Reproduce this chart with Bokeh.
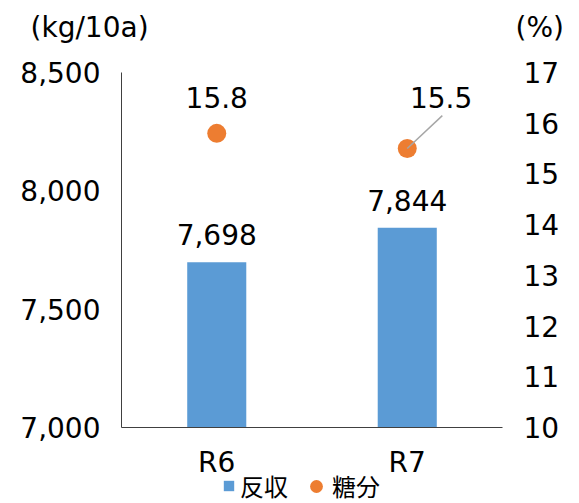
from bokeh.plotting import figure
from bokeh.models import (ColumnDataSource, Range1d, LinearAxis, FixedTicker,
                          NumeralTickFormatter, LabelSet, Label, Legend, LegendItem)
from bokeh.core.properties import value
from bokeh.embed import file_html
from bokeh.resources import INLINE

categories = ["R6", "R7"]
yield_kg = [7698, 7844]
sugar_pct = [15.8, 15.5]
yield_labels = ["7,698", "7,844"]
sugar_labels = ["15.8", "15.5"]
left_ticks = [7000, 7500, 8000, 8500]
right_ticks = [10, 11, 12, 13, 14, 15, 16, 17]
left_title = "(kg/10a)"
right_title = "(%)"
series_names = ["反収", "糖分"]

FONT = "DejaVu Sans"
JFONT = "Noto Sans CJK JP"
BLUE = "#5B9BD5"
ORANGE = "#ED7D31"
TS = "28px"

# layout: canvas size and where the chart's plotting box sits on it (pixels)
W, H = 579, 503
FL, FR, FT, FB = 121, 502, 72, 427

n = len(categories)
x_pos = [i + 0.5 for i in range(n)]
ux = (FR - FL) / n
uy = (FB - FT) / (left_ticks[-1] - left_ticks[0])
ur = (FB - FT) / (right_ticks[-1] - right_ticks[0])

p = figure(width=W, height=H, output_backend="svg", toolbar_location=None,
           x_range=Range1d(-FL / ux, n + (W - FR) / ux),
           y_range=Range1d(left_ticks[0] - (H - FB) / uy, left_ticks[-1] + FT / uy),
           min_border=0)
p.extra_y_ranges = {"pct": Range1d(right_ticks[0] - (H - FB) / ur, right_ticks[-1] + FT / ur)}
p.outline_line_color = None
p.xgrid.visible = False
p.ygrid.visible = False

src = ColumnDataSource(dict(x=x_pos, y=yield_kg, s=sugar_pct, yl=yield_labels, sl=sugar_labels))
bars = p.vbar(x="x", top="y", bottom=left_ticks[0], width=0.31, source=src, color=BLUE, line_color=None)
pts = p.scatter(x="x", y="s", source=src, y_range_name="pct", size=19, color=ORANGE, line_color=None)

# axes (fixed inside the canvas so that they take no border space)
ya = p.yaxis[0]
ya.fixed_location = 0
ya.bounds = (left_ticks[0], left_ticks[-1])
ya.ticker = FixedTicker(ticks=left_ticks)
ya.formatter = NumeralTickFormatter(format="0,0")
ya.major_tick_line_color = None
ya.minor_tick_line_color = None
ya.axis_line_color = "#404040"
ya.major_label_standoff = 15
ya.major_label_text_font = FONT
ya.major_label_text_font_size = TS
ya.major_label_text_color = "#000000"

ry = LinearAxis(y_range_name="pct", ticker=FixedTicker(ticks=right_ticks), fixed_location=n)
ry.axis_line_color = None
ry.major_tick_line_color = None
ry.minor_tick_line_color = None
ry.major_label_standoff = 15
ry.major_label_text_font = FONT
ry.major_label_text_font_size = TS
ry.major_label_text_color = "#000000"
p.add_layout(ry, "right")

xa = p.xaxis[0]
xa.fixed_location = left_ticks[0]
xa.bounds = (0, n)
xa.ticker = FixedTicker(ticks=x_pos)
xa.major_label_overrides = {xp: c for xp, c in zip(x_pos, categories)}
xa.axis_line_color = "#404040"
xa.major_tick_line_color = None
xa.minor_tick_line_color = None
xa.major_label_standoff = 12
xa.major_label_text_font = FONT
xa.major_label_text_font_size = TS
xa.major_label_text_color = "#000000"

# data labels
p.add_layout(LabelSet(x="x", y="y", text="yl", source=src, text_align="center",
                      text_baseline="alphabetic", y_offset=17, text_font_size=value(TS),
                      text_font=value(FONT), text_color="#000000"))

src1 = ColumnDataSource(dict(x=x_pos[:1], s=sugar_pct[:1], sl=sugar_labels[:1]))
p.add_layout(LabelSet(x="x", y="s", text="sl", source=src1, y_range_name="pct", text_align="center",
                      text_baseline="alphabetic", y_offset=25, text_font_size=value(TS),
                      text_font=value(FONT), text_color="#000000"))

src2 = ColumnDataSource(dict(x=x_pos[1:], s=sugar_pct[1:], sl=sugar_labels[1:],
                             x2=[v + 0.184 for v in x_pos[1:]], xl=[v + 0.178 for v in x_pos[1:]],
                             s2=[v + 0.65 for v in sugar_pct[1:]]))
p.segment(x0="x", y0="s", x1="x2", y1="s2", source=src2,
          y_range_name="pct", line_color="#A6A6A6", line_width=1.5)
p.add_layout(LabelSet(x="xl", y="s2", text="sl", source=src2,
                      y_range_name="pct", text_align="center", text_baseline="alphabetic", y_offset=8,
                      text_font_size=value(TS), text_font=value(FONT), text_color="#000000"))

# unit titles (screen units: from the canvas bottom-left, y upward)
p.add_layout(Label(x=30, y=H - 27, x_units="screen", y_units="screen", text=left_title,
                   text_font=FONT, text_font_size="28px", text_color="#000000",
                   text_baseline="middle"))
p.add_layout(Label(x=515, y=H - 27, x_units="screen", y_units="screen", text=right_title,
                   text_font=FONT, text_font_size="28px", text_color="#000000",
                   text_baseline="middle"))

# legend, one entry each so that the marker boxes can differ
leg_common = dict(orientation="horizontal", padding=0, margin=0, border_line_color=None,
                  background_fill_alpha=0, label_text_font=JFONT, label_text_font_size="24px",
                  label_text_color="#000000")
leg1 = Legend(items=[LegendItem(label=series_names[0], renderers=[bars])],
              location=(222, 0), glyph_width=13, glyph_height=13, label_standoff=5, **leg_common)
leg2 = Legend(items=[LegendItem(label=series_names[1], renderers=[pts])],
              location=(300, 0), glyph_width=32, glyph_height=32, label_standoff=0, **leg_common)
p.add_layout(leg1, "center")
p.add_layout(leg2, "center")

open("out.html", "w").write(file_html(p, INLINE))
